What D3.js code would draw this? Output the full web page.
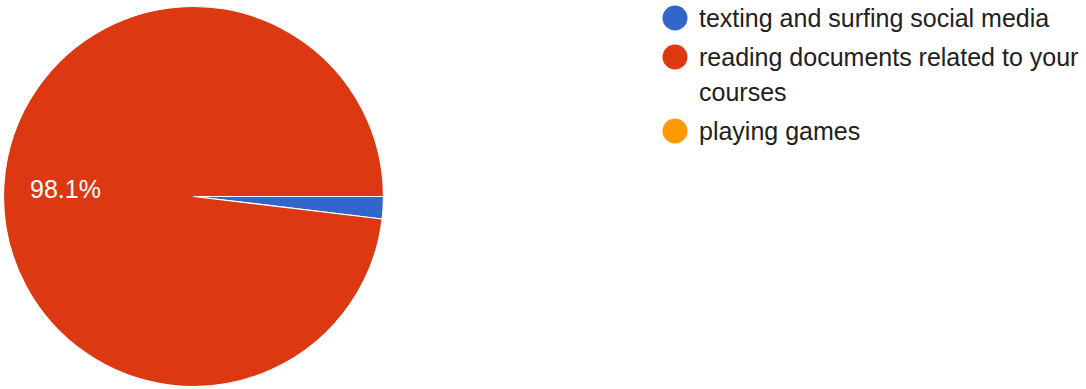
<!DOCTYPE html>
<html>
<head>
<meta charset="utf-8">
<script src="https://cdn.jsdelivr.net/npm/d3@7"></script>
<style>
  html, body { margin: 0; padding: 0; background: #ffffff; }
  svg { display: block; }
</style>
</head>
<body>
<svg id="chart" width="1086" height="389"></svg>
<script>
// Survey responses per answer option
const categories = [
  "texting and surfing social media",
  "reading documents related to your courses",
  "playing games"
];
const responses = [1, 52, 0];
const colors = ["#3366cc", "#dc3912", "#ff9900"];

const svg = d3.select("#chart");
const font = "'Liberation Sans', Arial, sans-serif";

const cx = 193.5, cy = 196.5, radius = 190;

const total = d3.sum(responses);
const data = categories.map((c, i) => ({ category: c, value: responses[i], color: colors[i] }));

const pie = d3.pie()
  .sort(null)
  .value(d => d.value)
  .startAngle(Math.PI / 2)
  .endAngle(Math.PI / 2 + 2 * Math.PI);

const arc = d3.arc().innerRadius(0).outerRadius(radius);
const labelArc = d3.arc().innerRadius(radius * 0.675).outerRadius(radius * 0.675);

const g = svg.append("g").attr("transform", `translate(${cx},${cy})`);

const arcs = pie(data).filter(d => d.value > 0);

g.selectAll("path.slice")
  .data(arcs)
  .join("path")
  .attr("class", "slice")
  .attr("d", arc)
  .attr("fill", d => d.data.color)
  .attr("stroke", "#ffffff")
  .attr("stroke-width", 1.2)
  .attr("stroke-linejoin", "round");

// Percent labels only on slices wide enough to hold them
const fmt = d3.format(".1%");
g.selectAll("text.pct")
  .data(arcs.filter(d => d.endAngle - d.startAngle > 0.3))
  .join("text")
  .attr("class", "pct")
  .attr("transform", d => `translate(${labelArc.centroid(d)})`)
  .attr("text-anchor", "middle")
  .attr("dominant-baseline", "central")
  .attr("fill", "#ffffff")
  .style("font-family", font)
  .style("font-size", "25px")
  .text(d => fmt(d.value / total));

// Legend with wrapped entries
const legend = svg.append("g").attr("transform", "translate(675,0)");
const lineHeight = 35;
const maxWidth = 400;
let y = 27;
data.forEach(d => {
  const item = legend.append("g");
  const text = item.append("text")
    .attr("x", 24)
    .attr("fill", "#212121")
    .style("font-family", font)
    .style("font-size", "25px");
  const words = d.category.split(" ");
  let line = [];
  let tspan = text.append("tspan").attr("x", 24).attr("y", y);
  let lines = 1;
  words.forEach(w => {
    line.push(w);
    tspan.text(line.join(" "));
    if (tspan.node().getComputedTextLength() > maxWidth && line.length > 1) {
      line.pop();
      tspan.text(line.join(" "));
      line = [w];
      lines += 1;
      tspan = text.append("tspan").attr("x", 24).attr("y", y + (lines - 1) * lineHeight).text(w);
    }
  });
  item.append("circle")
    .attr("cx", 0)
    .attr("cy", y - 9)
    .attr("r", 12.5)
    .attr("fill", d.color);
  y += lines * lineHeight + 4;
});
</script>
</body>
</html>
